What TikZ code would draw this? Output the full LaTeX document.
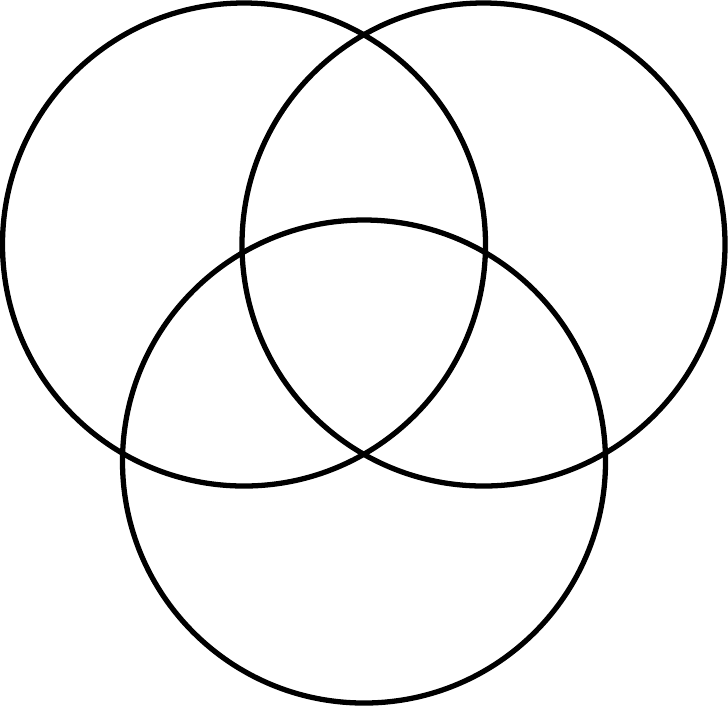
\documentclass[tikz,border=0pt]{standalone}
\begin{document}
\begin{tikzpicture}[x=0.01cm,y=0.01cm]
\useasboundingbox (0,0) rectangle (728,-708);
\tikzstyle{every path}+=[line width=1.5pt]
\draw (244,-244.5) circle (241.5);
\draw (483.5,-244.5) circle (241.5);
\draw (364,-461.5) circle (241.5);
\end{tikzpicture}
\end{document}
